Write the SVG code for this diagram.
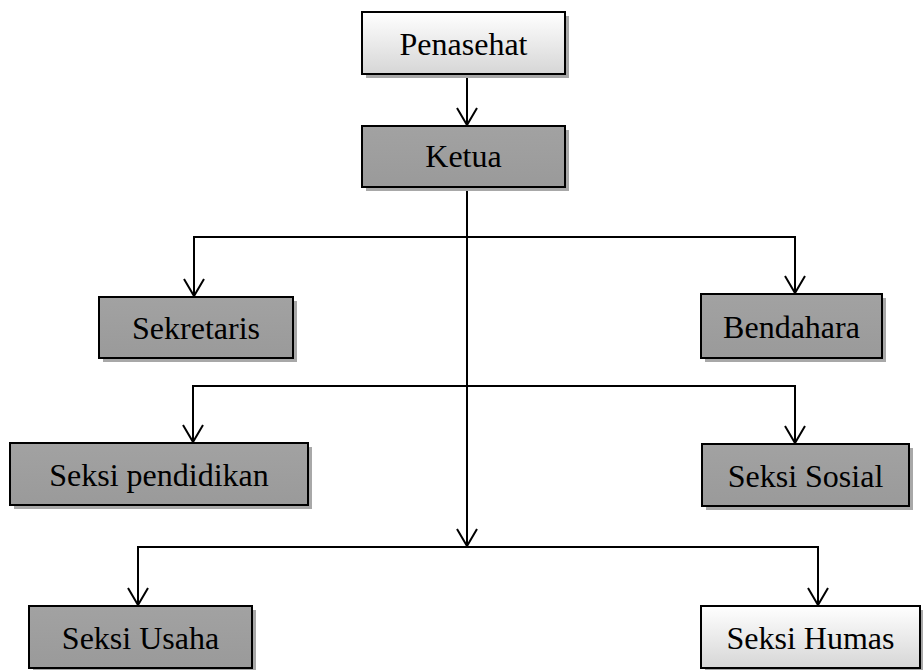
<svg xmlns="http://www.w3.org/2000/svg" width="923" height="670" viewBox="0 0 923 670">
<defs>
<linearGradient id="light" x1="0" y1="0" x2="0" y2="1"><stop offset="0" stop-color="#ffffff"/><stop offset="1" stop-color="#d6d6d6"/></linearGradient>
<linearGradient id="dark" x1="0" y1="0" x2="0" y2="1"><stop offset="0" stop-color="#a2a2a2"/><stop offset="1" stop-color="#9a9a9a"/></linearGradient>
<marker id="arr" markerUnits="userSpaceOnUse" markerWidth="22" markerHeight="24" refX="19" refY="12" orient="auto" viewBox="0 0 22 24"><path d="M2,2 L19,12 L2,22" fill="none" stroke="#000" stroke-width="2"/></marker>
</defs>
<style>
.box{stroke:#000;stroke-width:2}
.sh{fill:#a8a8a8}
.t{font-family:"Liberation Serif","Times New Roman",serif;font-size:32px;fill:#000;text-anchor:middle}
.c{fill:none;stroke:#000;stroke-width:2}
</style>
<rect width="923" height="670" fill="#fff"/>
<g id="connectors">
<line class="c" x1="467" y1="74" x2="467" y2="125" marker-end="url(#arr)"/>
<line class="c" x1="467" y1="187" x2="467" y2="546" marker-end="url(#arr)"/>
<line class="c" x1="193" y1="237" x2="796" y2="237"/>
<line class="c" x1="194" y1="237" x2="194" y2="296" marker-end="url(#arr)"/>
<line class="c" x1="795" y1="237" x2="795" y2="293" marker-end="url(#arr)"/>
<line class="c" x1="192" y1="386" x2="796" y2="386"/>
<line class="c" x1="193" y1="386" x2="193" y2="442" marker-end="url(#arr)"/>
<line class="c" x1="795" y1="386" x2="795" y2="443" marker-end="url(#arr)"/>
<line class="c" x1="137" y1="547" x2="819" y2="547"/>
<line class="c" x1="138" y1="547" x2="138" y2="605" marker-end="url(#arr)"/>
<line class="c" x1="818" y1="547" x2="818" y2="605" marker-end="url(#arr)"/>
</g>
<g id="penasehat">
<rect class="sh" x="366" y="16" width="203" height="62"/>
<rect class="box" x="362" y="12" width="203" height="62" fill="url(#light)"/>
<text class="t" x="463.5" y="55">Penasehat</text>
</g>
<g id="ketua">
<rect class="sh" x="366" y="130" width="203" height="61"/>
<rect class="box" x="362" y="126" width="203" height="61" fill="url(#dark)"/>
<text class="t" x="463.5" y="167">Ketua</text>
</g>
<g id="sekretaris">
<rect class="sh" x="103" y="301" width="194" height="61"/>
<rect class="box" x="99" y="297" width="194" height="61" fill="url(#dark)"/>
<text class="t" x="196" y="339">Sekretaris</text>
</g>
<g id="bendahara">
<rect class="sh" x="705" y="298" width="181" height="64"/>
<rect class="box" x="701" y="294" width="181" height="64" fill="url(#dark)"/>
<text class="t" x="791.5" y="338">Bendahara</text>
</g>
<g id="seksi-pendidikan">
<rect class="sh" x="14" y="447" width="298" height="62"/>
<rect class="box" x="10" y="443" width="298" height="62" fill="url(#dark)"/>
<text class="t" x="159" y="486">Seksi pendidikan</text>
</g>
<g id="seksi-sosial">
<rect class="sh" x="706" y="448" width="207" height="62"/>
<rect class="box" x="702" y="444" width="207" height="62" fill="url(#dark)"/>
<text class="t" x="805.5" y="487">Seksi Sosial</text>
</g>
<g id="seksi-usaha">
<rect class="sh" x="33" y="610" width="223" height="62"/>
<rect class="box" x="29" y="606" width="223" height="62" fill="url(#dark)"/>
<text class="t" x="140.5" y="649">Seksi Usaha</text>
</g>
<g id="seksi-humas">
<rect class="sh" x="705" y="610" width="220" height="62"/>
<rect class="box" x="701" y="606" width="219" height="62" fill="url(#light)"/>
<text class="t" x="810.5" y="649">Seksi Humas</text>
</g>
</svg>
